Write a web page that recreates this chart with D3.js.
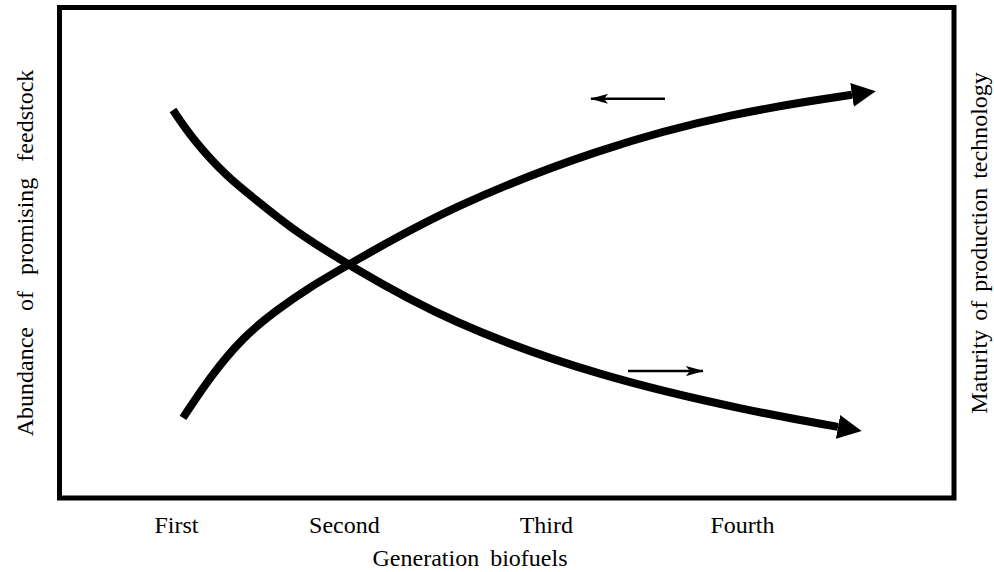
<!DOCTYPE html>
<html>
<head>
<meta charset="utf-8">
<script src="https://cdn.jsdelivr.net/npm/d3@7"></script>
<style>
  body { margin: 0; background: #fff; }
  text { font-family: "Liberation Serif", "Times New Roman", serif; fill: #000; }
</style>
</head>
<body>
<div id="chart"></div>
<script>
// generation axis: tick positions (generation units) and labels
const genTicks = [1, 1.89, 2.96, 4];
const genLabels = ['First', 'Second', 'Third', 'Fourth'];

// feedstock abundance curve (falls with generation)
const feedGen = [0.984, 1.09, 1.27, 1.445, 1.62, 1.912, 2.452, 3.247, 4.042, 4.509];
const feedVal = [8.22, 7.56, 6.73, 6.16, 5.56, 4.78, 3.49, 2.29, 1.53, 1.18];

// production technology maturity curve (rises with generation)
const techGen = [1.037, 1.18, 1.355, 1.535, 1.71, 1.912, 2.452, 3.247, 3.952, 4.583];
const techVal = [1.38, 2.29, 3.18, 3.78, 4.29, 4.78, 6.07, 7.38, 8.16, 8.56];

// small direction arrows: [fromGen, toGen, level]
const pointerLeft = [3.592, 3.2, 8.47];
const pointerRight = [3.396, 3.793, 2.42];

const W = 994, H = 572;
const frame = { left: 59.5, top: 7.5, right: 954, bottom: 498 };

const svg = d3.select('#chart')
  .append('svg')
  .attr('width', W)
  .attr('height', H);

const x = d3.scaleLinear().domain([1, 4]).range([176, 742]);
const y = d3.scaleLinear().domain([0, 10]).range([480, 30]);

const defs = svg.append('defs');
defs.append('marker')
  .attr('id', 'bigHead')
  .attr('markerUnits', 'userSpaceOnUse')
  .attr('viewBox', '0 -12 24 24')
  .attr('markerWidth', 24)
  .attr('markerHeight', 24)
  .attr('refX', 0)
  .attr('refY', 0)
  .attr('orient', 'auto')
  .append('path')
  .attr('d', 'M0,-12L24,0L0,12Z')
  .attr('fill', '#000');

defs.append('marker')
  .attr('id', 'smallHead')
  .attr('markerUnits', 'userSpaceOnUse')
  .attr('viewBox', '0 -5 18 10')
  .attr('markerWidth', 18)
  .attr('markerHeight', 10)
  .attr('refX', 17)
  .attr('refY', 0)
  .attr('orient', 'auto')
  .append('path')
  .attr('d', 'M0,-5L18,0L0,5L4,0Z')
  .attr('fill', '#000');

// frame
svg.append('rect')
  .attr('x', frame.left)
  .attr('y', frame.top)
  .attr('width', frame.right - frame.left)
  .attr('height', frame.bottom - frame.top)
  .attr('fill', 'none')
  .attr('stroke', '#000')
  .attr('stroke-width', 5);

// curves (basis spline smooths the hand-read points)
const line = d3.line()
  .x(d => x(d[0]))
  .y(d => y(d[1]))
  .curve(d3.curveBasis);

const curves = [
  d3.zip(feedGen, feedVal),
  d3.zip(techGen, techVal)
];

svg.selectAll('.curve')
  .data(curves)
  .join('path')
  .attr('class', 'curve')
  .attr('d', line)
  .attr('fill', 'none')
  .attr('stroke', '#000')
  .attr('stroke-width', 8)
  .attr('stroke-linecap', 'butt')
  .attr('marker-end', 'url(#bigHead)');

// direction pointers
svg.selectAll('.pointer')
  .data([pointerLeft, pointerRight])
  .join('line')
  .attr('class', 'pointer')
  .attr('x1', d => x(d[0]))
  .attr('x2', d => x(d[1]))
  .attr('y1', d => y(d[2]))
  .attr('y2', d => y(d[2]))
  .attr('stroke', '#000')
  .attr('stroke-width', 2.5)
  .attr('marker-end', 'url(#smallHead)');

// generation axis
const xAxis = svg.append('g')
  .attr('transform', `translate(0,${frame.bottom})`)
  .call(d3.axisBottom(x)
    .tickValues(genTicks)
    .tickFormat((d, i) => genLabels[i])
    .tickSize(0)
    .tickPadding(18));
xAxis.select('.domain').remove();
xAxis.selectAll('text')
  .style('font-family', '"Liberation Serif", "Times New Roman", serif')
  .style('font-size', '24px');

svg.append('text')
  .attr('x', 470)
  .attr('y', 566)
  .attr('text-anchor', 'middle')
  .style('font-size', '24px')
  .style('word-spacing', '5px')
  .text('Generation biofuels');

svg.append('text')
  .attr('transform', 'translate(33,253) rotate(-90)')
  .attr('text-anchor', 'middle')
  .style('font-size', '24px')
  .style('word-spacing', '10px')
  .text('Abundance of promising feedstock');

svg.append('text')
  .attr('transform', 'translate(987,243) rotate(-90)')
  .attr('text-anchor', 'middle')
  .style('font-size', '24px')
  .style('word-spacing', '3px')
  .text('Maturity of production technology');
</script>
</body>
</html>
